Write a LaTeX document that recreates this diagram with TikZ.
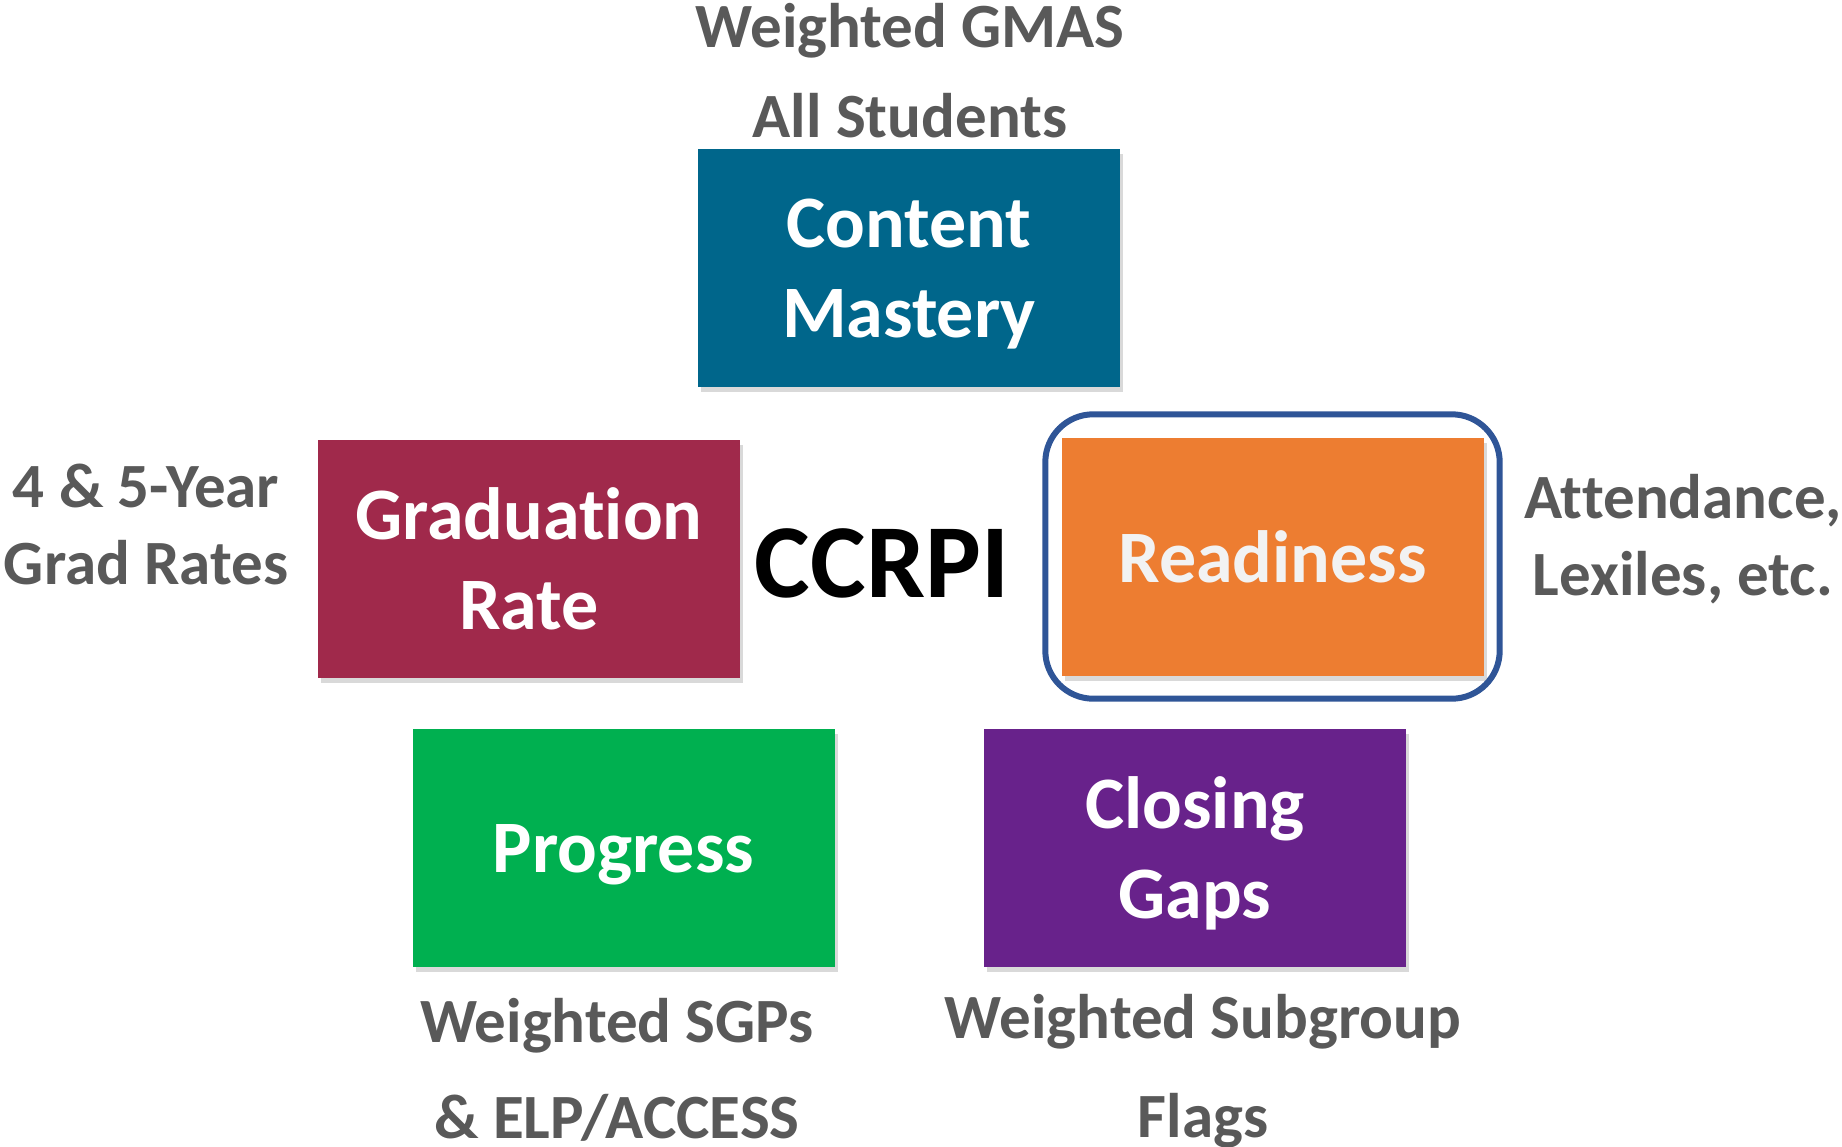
\documentclass[tikz,border=0pt]{standalone}
\usepackage{fontspec}
\setmainfont{Carlito}
\usetikzlibrary{positioning}
\usetikzlibrary{shadows, fit}
\definecolor{masteryblue}{HTML}{00668B}
\definecolor{gradred}{HTML}{A0294B}
\definecolor{readyorange}{HTML}{ED7D31}
\definecolor{progressgreen}{HTML}{00B050}
\definecolor{gapspurple}{HTML}{68228B}
\definecolor{labelgray}{HTML}{595959}
\definecolor{ringblue}{HTML}{2F5597}
\definecolor{softwhite}{HTML}{F2F2F2}
% t\nolig i keeps Carlito from joining "ti"
\newcommand{\nolig}{\kern0pt}
\tikzstyle{component} = [rectangle, minimum width=422pt, minimum height=238pt, text centered, align=center, text=white, inner sep=0pt, text depth=0pt, font=\bfseries\fontsize{74}{90}\selectfont, drop shadow={opacity=0.3, shadow xshift=3pt, shadow yshift=-5pt}]
\tikzstyle{measure} = [anchor=base, inner sep=0pt, text=labelgray, font=\bfseries\fontsize{63}{76}\selectfont]
\tikzstyle{ring} = [draw=ringblue, line width=6pt, rounded corners=48pt, inner xsep=16pt, inner ysep=23pt]

\begin{document}
\begin{tikzpicture}[x=1pt, y=-1pt]
        \useasboundingbox (0,0) rectangle (1842,1146);
        \node (mastery) [component, fill=masteryblue] at (909,268) {Content\\Mastery};
        \node (grad) [component, fill=gradred] at (529,559) {Graduat\nolig ion\\Rate};
        \node (ready) [component, fill=readyorange, text=softwhite] at (1272.5,556.5) {Readiness};
        \node (progress) [component, fill=progressgreen] at (623.5,848) {Progress};
        \node (gaps) [component, fill=gapspurple] at (1195,848) {Closing\\Gaps};
        \node (ccrpi) [inner sep=0pt, font=\bfseries\fontsize{105}{110}\selectfont] at (882,563) {CCRPI};
        \node (focus) [ring, fit=(ready)] {};

        \node (gmas) [measure] at (910,47) {Weighted GMAS};
        \node (allstud) [measure] at (910,137) {All Students};
        \node (years) [measure] at (146,507) {4 \& 5-Year};
        \node (gradrates) [measure] at (146,584) {Grad Rates};
        \node (attend) [measure] at (1683,518) {At\nolig tendance,};
        \node (lexiles) [measure] at (1683,595) {Lexiles, etc.};
        \node (sgps) [measure] at (617,1042) {Weighted SGPs};
        \node (elp) [measure] at (617,1138) {\& ELP/ACCESS};
        \node (subgroup) [measure] at (1203,1038) {Weighted Subgroup};
        \node (flags) [measure] at (1203,1137) {Flags};

    \end{tikzpicture}
\end{document}
